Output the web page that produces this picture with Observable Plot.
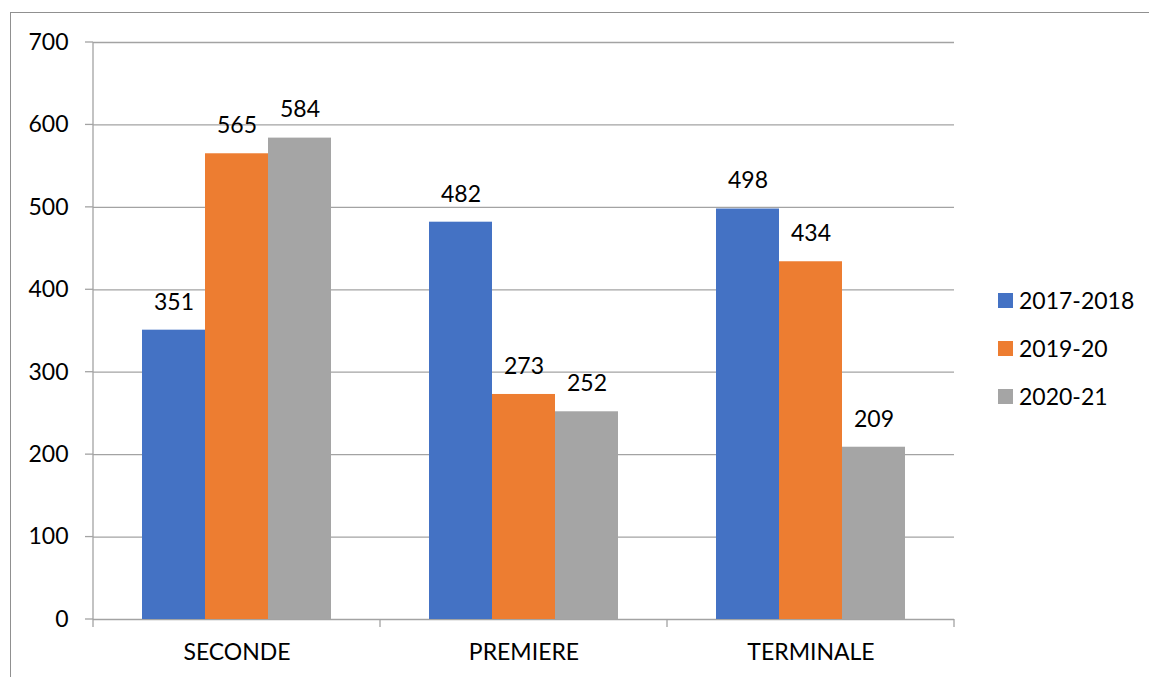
<!DOCTYPE html>
<html><head><meta charset="utf-8">
<script src="https://cdn.jsdelivr.net/npm/d3@7"></script>
<script src="https://cdn.jsdelivr.net/npm/@observablehq/plot@0.6"></script>
<style>
body{margin:0;background:#fff;}
#wrap{position:relative;width:1149px;height:677px;overflow:hidden;font-family:Lato,sans-serif;background:#fff;}
#border{position:absolute;left:10px;top:12px;width:1300px;height:800px;border-left:1.5px solid #909090;border-top:1.5px solid #909090;}
#chart{position:absolute;left:0;top:0;}
#legend{position:absolute;left:998px;top:276px;}
.item{display:flex;align-items:center;height:48px;font-size:23px;color:#000;}
.sw{width:15px;height:15px;margin-right:6px;}
</style>
</head><body>
<div id="wrap"><div id="border"></div><div id="chart"></div><div id="legend"></div></div>
<script>
const categories = ["SECONDE", "PREMIERE", "TERMINALE"];
const series = ["2017-2018", "2019-20", "2020-21"];
const values2017 = [351, 482, 498];
const values2019 = [565, 273, 434];
const values2020 = [584, 252, 209];
const colors = ["#4472C4", "#ED7D31", "#A5A5A5"];
const yTicks = [0, 100, 200, 300, 400, 500, 600, 700];
const gridColor = "#a3a3a3";

const seriesValues = [values2017, values2019, values2020];
const rows = [];
categories.forEach((c, i) => series.forEach((s, j) => rows.push({category: c, series: s, value: seriesValues[j][i]})));

const chart = Plot.plot({
  width: 1149, height: 677,
  marginLeft: 92, marginRight: 194, marginTop: 42, marginBottom: 58,
  style: {fontFamily: "Lato, sans-serif", fontSize: "23px", color: "#000", background: "transparent"},
  fx: {domain: categories, padding: 0, label: null, axis: "bottom", tickSize: 0, tickPadding: 24},
  x: {domain: series, paddingInner: 0, paddingOuter: 0.75, axis: null},
  y: {domain: [0, 700], ticks: yTicks, tickSize: 0, tickPadding: 25, label: null, tickFormat: d => String(d)},
  color: {domain: series, range: colors},
  marks: [
    Plot.ruleY(yTicks, {stroke: gridColor, strokeWidth: 1.3}),
    Plot.barY(rows, {fx: "category", x: "series", y: "value", fill: "series"}),
    Plot.text(rows, {fx: "category", x: "series", y: "value", text: d => String(d.value), dy: -28, fontSize: 23, fill: "#000"})
  ]
});
document.getElementById("chart").appendChild(chart);

// axis line and tick marks drawn from the library's scales
const ys = chart.scale("y"), fxs = chart.scale("fx");
const svg = d3.select(chart);
const g = svg.append("g").attr("stroke", gridColor).attr("stroke-width", 1.3);
const y0 = ys.apply(0), yTop = ys.apply(700);
const xL = fxs.apply(categories[0]);
g.append("line").attr("x1", xL).attr("x2", xL).attr("y1", yTop).attr("y2", y0);
yTicks.forEach(t => g.append("line").attr("x1", xL - 8).attr("x2", xL).attr("y1", ys.apply(t)).attr("y2", ys.apply(t)));
const edges = categories.map(c => fxs.apply(c));
edges.push(fxs.apply(categories[categories.length - 1]) + fxs.bandwidth);
edges.forEach(x => g.append("line").attr("x1", x).attr("x2", x).attr("y1", y0).attr("y2", y0 + 8));

const legend = d3.select("#legend");
series.forEach((s, i) => {
  const it = legend.append("div").attr("class", "item");
  it.append("div").attr("class", "sw").style("background", colors[i]);
  it.append("span").text(s);
});
</script>
</body></html>
